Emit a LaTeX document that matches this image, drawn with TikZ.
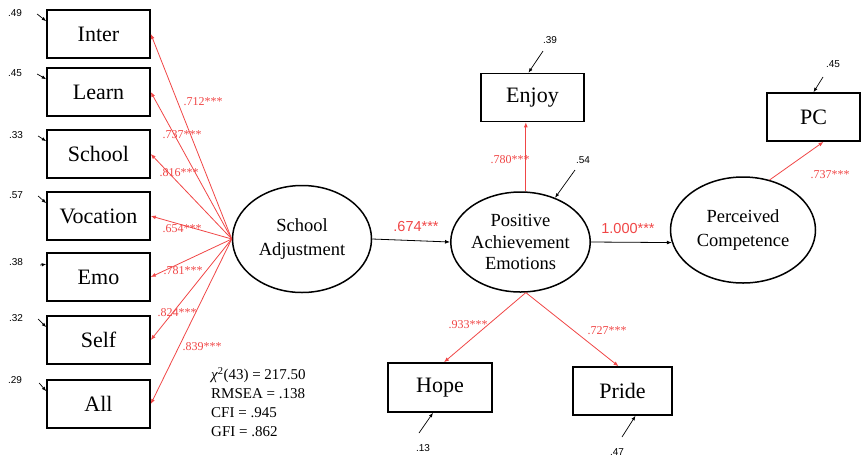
\documentclass[tikz,border=0pt]{standalone}
\usepackage{fontspec}
\setmainfont{Liberation Serif}
\setsansfont{Liberation Sans}
\usetikzlibrary{positioning,arrows.meta,shapes.geometric}
\definecolor{ldred}{RGB}{240,70,70}

\begin{document}
\begin{tikzpicture}[x=1pt,y=-1pt,
  obs/.style={draw,line width=1.6pt,minimum width=103pt,minimum height=48pt,inner sep=0pt,font=\fontsize{22}{24}\selectfont},
  lat/.style={draw,ellipse,line width=1.5pt,inner sep=0pt,align=center,font=\fontsize{18.5}{24}\selectfont},
  ld/.style={draw=ldred,line width=0.8pt,-{Latex[length=5pt,width=4pt]}},
  pth/.style={draw,line width=0.8pt,-{Latex[length=5pt,width=4pt]}},
  erra/.style={draw,line width=0.7pt,-{Latex[length=4.5pt,width=3.5pt]}},
  ldlbl/.style={text=ldred,inner sep=0pt,font=\fontsize{12}{12}\selectfont},
  pthlbl/.style={text=ldred,inner sep=0pt,font=\sffamily\fontsize{14.5}{14.5}\selectfont},
  errlbl/.style={inner sep=0pt,font=\sffamily\fontsize{10}{10}\selectfont}]
\useasboundingbox (0,0) rectangle (867,459);

% indicators of school adjustment
\node[obs] (inter) at (98.5,34) {Inter};
\node[obs] (learn) at (98.5,92) {Learn};
\node[obs] (school) at (98.5,154) {School};
\node[obs] (vocation) at (98.5,216) {Vocation};
\node[obs] (emo) at (98.5,277) {Emo};
\node[obs] (self) at (98.5,340) {Self};
\node[obs] (all) at (98.5,404) {All};

% latent factors
\node[lat,minimum width=139pt,minimum height=107pt] (sadj) at (302,239) {School\\Adjustment};
\node[lat,minimum width=137pt,minimum height=100pt,font=\fontsize{18.5}{21.5}\selectfont] (pae) at (520.5,242) {Positive\\Achievement\\Emotions};
\node[lat,minimum width=145pt,minimum height=106pt] (pco) at (743,230) {Perceived\\Competence};

% indicators of emotions and competence
\node[obs] (enjoy) at (532.5,97.5) {Enjoy};
\node[obs,minimum width=93pt] (pc) at (813.5,117) {PC};
\node[obs,minimum width=104pt,minimum height=49pt] (hope) at (440,387.5) {Hope};
\node[obs,minimum width=99pt] (pride) at (622.5,391) {Pride};

% loadings
\draw[ld] (sadj.west) -- (inter.east);
\draw[ld] (sadj.west) -- (learn.east);
\draw[ld] (sadj.west) -- (school.east);
\draw[ld] (sadj.west) -- (vocation.east);
\draw[ld] (sadj.west) -- (emo.east);
\draw[ld] (sadj.west) -- (self.east);
\draw[ld] (sadj.west) -- (all.east);
\node[ldlbl] (l1) at (203,102) {.712***};
\node[ldlbl] (l2) at (182,135) {.737***};
\node[ldlbl] (l3) at (179,173) {.816***};
\node[ldlbl] (l4) at (182,229) {.654***};
\node[ldlbl] (l5) at (183,271) {.781***};
\node[ldlbl] (l6) at (177,313) {.824***};
\node[ldlbl] (l7) at (202,347) {.839***};

\coordinate (paetop) at (pae.84);
\coordinate (paebot) at (pae.-84);
\draw[ld] (paetop) -- (paetop |- enjoy.south);
\draw[ld] (paebot) -- ([xshift=4pt]hope.north);
\draw[ld] (paebot) -- ([xshift=-4pt]pride.north);
\draw[ld] (pco.62) -- ([xshift=10pt]pc.south);
\node[ldlbl] (l8) at (510,160) {.780***};
\node[ldlbl] (l9) at (468,325) {.933***};
\node[ldlbl] (l10) at (607,331) {.727***};
\node[ldlbl] (l11) at (830,175) {.737***};

% structural paths
\draw[pth] (sadj.east) -- (pae.west);
\draw[pth] (pae.east) -- (pco.190);
\node[pthlbl] (p1) at (416,227) {.674***};
\node[pthlbl] (p2) at (628,229) {1.000***};

% error terms
\node[errlbl] (e1) at (15,13) {.49};
\node[errlbl] (e2) at (15,73) {.45};
\node[errlbl] (e3) at (16,135) {.33};
\node[errlbl] (e4) at (16,195) {.57};
\node[errlbl] (e5) at (16,262) {.38};
\node[errlbl] (e6) at (16,318) {.32};
\node[errlbl] (e7) at (15,380) {.29};
\draw[erra] ([xshift=15pt,yshift=-1pt]e1.east) -- ([yshift=-12pt]inter.north west);
\draw[erra] ([xshift=15pt,yshift=-1pt]e2.east) -- ([yshift=-12pt]learn.north west);
\draw[erra] ([xshift=15pt,yshift=-1pt]e3.east) -- ([yshift=-12pt]school.north west);
\draw[erra] ([xshift=15pt,yshift=-1pt]e4.east) -- ([yshift=-12pt]vocation.north west);
\draw[erra] ([xshift=17pt,yshift=-3pt]e5.east) -- ([yshift=-12pt]emo.north west);
\draw[erra] ([xshift=15pt,yshift=-1pt]e6.east) -- ([yshift=-12pt]self.north west);
\draw[erra] ([xshift=17pt,yshift=-3pt]e7.east) -- ([yshift=-12pt]all.north west);

\node[errlbl] (e8) at (550,40) {.39};
\node[errlbl] (e9) at (583,160) {.54};
\node[errlbl] (e10) at (833,64) {.45};
\node[errlbl] (e11) at (423,448) {.13};
\node[errlbl] (e12) at (617,452) {.47};
\coordinate (t8) at (543,51);
\coordinate (t9) at (575,170);
\coordinate (t10) at (823,77);
\coordinate (t11) at (419,433);
\coordinate (t12) at (622,437);
\draw[erra] (t8) -- ([xshift=-4pt]enjoy.north);
\draw[erra] (t9) -- (pae.52);
\draw[erra] (t10) -- (pc.north);
\draw[erra] (t11) -- ([xshift=-7pt]hope.south);
\draw[erra] (t12) -- ([xshift=13pt]pride.south);

% fit indices
\node[anchor=north west,align=left,inner sep=0pt,font=\fontsize{15}{19}\selectfont] (fit) at (211,367)
  {{\itshape χ}\textsuperscript{2}(43) = 217.50\\RMSEA = .138\\CFI = .945\\GFI = .862};
\end{tikzpicture}
\end{document}
